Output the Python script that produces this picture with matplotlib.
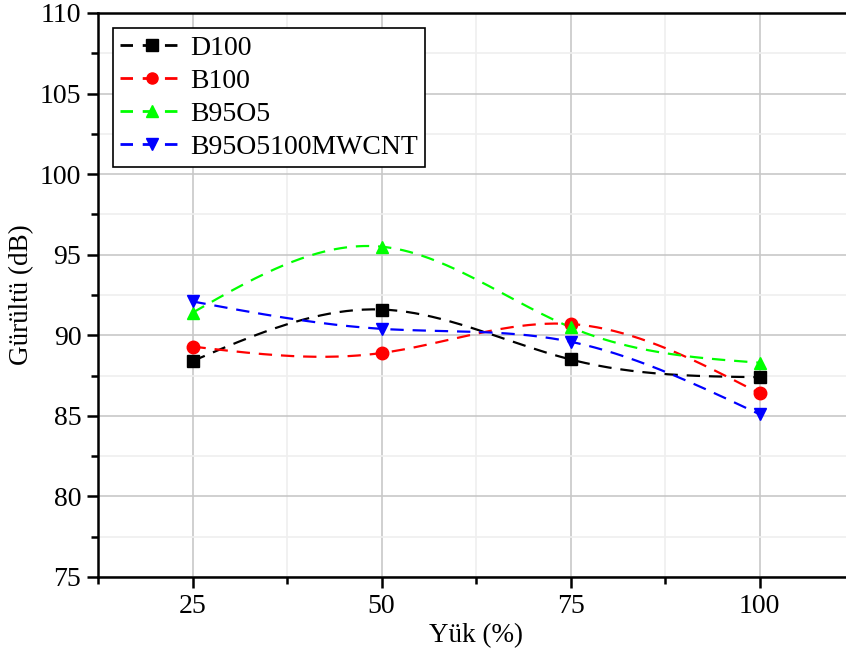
import numpy as np
import matplotlib
matplotlib.use("Agg")
import matplotlib.pyplot as plt
from matplotlib.ticker import MultipleLocator

# data
load = [25, 50, 75, 100]
d100 = [88.4, 91.6, 88.5, 87.4]
b100 = [89.3, 88.9, 90.7, 86.4]
b95o5 = [91.4, 95.5, 90.5, 88.3]
b95o5_cnt = [92.1, 90.4, 89.6, 85.1]

names = ["D100", "B100", "B95O5", "B95O5100MWCNT"]
colors = ["black", "red", "#00ff00", "blue"]
markers = ["s", "o", "^", "v"]


def natural_spline(x, y, n=200):
    # natural cubic spline through the points (Origin "spline" connect)
    x = np.asarray(x, float)
    y = np.asarray(y, float)
    k = len(x)
    h = np.diff(x)
    A = np.zeros((k, k))
    r = np.zeros(k)
    A[0, 0] = A[-1, -1] = 1
    for i in range(1, k - 1):
        A[i, i - 1] = h[i - 1]
        A[i, i] = 2 * (h[i - 1] + h[i])
        A[i, i + 1] = h[i]
        r[i] = 3 * ((y[i + 1] - y[i]) / h[i] - (y[i] - y[i - 1]) / h[i - 1])
    c = np.linalg.solve(A, r)
    xs = np.linspace(x[0], x[-1], n)
    ys = np.empty_like(xs)
    for j, t in enumerate(xs):
        i = min(np.searchsorted(x, t, side="right") - 1, k - 2)
        b = (y[i + 1] - y[i]) / h[i] - h[i] * (2 * c[i] + c[i + 1]) / 3
        d = (c[i + 1] - c[i]) / (3 * h[i])
        dx = t - x[i]
        ys[j] = y[i] + b * dx + c[i] * dx ** 2 + d * dx ** 3
    return xs, ys


plt.rcParams["font.family"] = ["Liberation Serif", "DejaVu Serif"]

fig = plt.figure(figsize=(8.46, 6.59), dpi=100)
ax = fig.add_axes([98 / 846, 82 / 659, 756 / 846, 564 / 659])

for vals, name, col, mk in zip([d100, b100, b95o5, b95o5_cnt], names, colors, markers):
    xs, ys = natural_spline(load, vals)
    ax.plot(xs, ys, color=col, lw=1.6, dashes=(6, 4), zorder=3)
    ax.plot(load, vals, linestyle="none", marker=mk, color=col, ms=9, zorder=4)
    ax.plot([], [], color=col, lw=2, dashes=(4.5, 3.5), marker=mk, ms=8, label=name)

ax.set_xlim(12.5, 112.5)
ax.set_ylim(75, 110)
ax.xaxis.set_major_locator(MultipleLocator(25))
ax.xaxis.set_minor_locator(MultipleLocator(12.5))
ax.yaxis.set_major_locator(MultipleLocator(5))
ax.yaxis.set_minor_locator(MultipleLocator(2.5))

ax.grid(True, which="major", color="#c8c8c8", lw=1.2)
ax.grid(True, which="minor", color="#efefef", lw=1.2)
ax.set_axisbelow(True)

for s in ["left", "bottom", "top"]:
    ax.spines[s].set_linewidth(1.8)
ax.spines["right"].set_visible(False)

ax.tick_params(which="major", direction="out", length=8, width=1.8, labelsize=20, pad=4)
ax.tick_params(which="minor", direction="out", length=5, width=1.8)
ax.tick_params(axis="x", which="both", top=False)

ax.set_xlabel("Yük (%)", fontsize=19.5, labelpad=3)
ax.set_ylabel("Gürültü (dB)", fontsize=19.5, labelpad=4)

leg = ax.legend(loc="upper left", bbox_to_anchor=(0.012, 0.983), fontsize=20,
                frameon=True, fancybox=False, edgecolor="black",
                handlelength=2.3, handletextpad=0.25, labelspacing=0.28,
                borderpad=0.25, borderaxespad=0.2)
leg.get_frame().set_linewidth(1.2)
leg.get_frame().set_alpha(1)

fig.savefig("out.png", dpi=100)
